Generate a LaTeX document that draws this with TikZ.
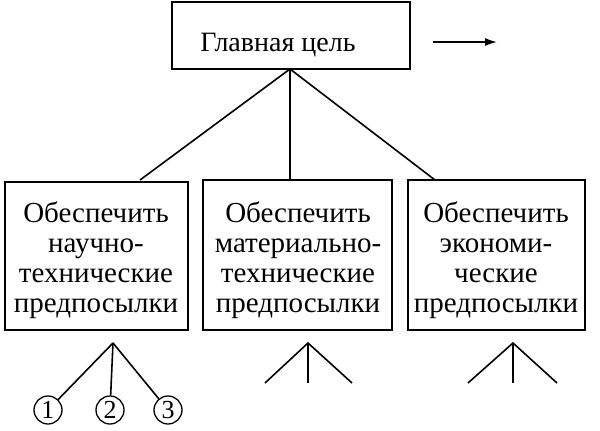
\documentclass[tikz,border=0pt]{standalone}
\usepackage{fontspec}
\setmainfont{Liberation Serif}
\usetikzlibrary{arrows.meta}
\begin{document}
\begin{tikzpicture}[x=1pt,y=-1pt,line width=1.6pt,
 t/.style={font=\fontsize{29}{30}\selectfont,align=center},
 c/.style={draw,circle,line width=1.3pt,minimum size=28pt,inner sep=0pt,font=\fontsize{26}{28}\selectfont}]
\useasboundingbox (0,0) rectangle (600,431);
\draw (172,2) rectangle (410,69);
\node[t,font=\fontsize{28}{30}\selectfont] (g) at (278,45) {Главная цель};
\coordinate (a1) at (433,42); \coordinate (a2) at (497,42);
\draw[-{Latex[length=12pt,width=8pt]}] (a1) -- (a2);
\coordinate (top) at (290,69);
\draw (5,182) rectangle (188,330);
\draw (203,180) rectangle (392,330);
\draw (408,180) rectangle (585,330);
\draw (top) -- (140,180); \draw (top) -- (290,180); \draw (top) -- (435,180);
\node[t] at (96,260) {Обеспечить\\научно-\\технические\\предпосылки};
\node[t] at (298,260) {Обеспечить\\материально-\\технические\\предпосылки};
\node[t] at (496,260) {Обеспечить\\экономи-\\ческие\\предпосылки};
\node[c] (n1) at (48,410) {1};
\node[c] (n2) at (110,410) {2};
\node[c] (n3) at (168,410) {3};
\coordinate (p1) at (113,343);
\draw (p1) -- (n1); \draw (p1) -- (n2); \draw (p1) -- (n3);
\draw (265,383) -- (308,343) -- (352,383); \draw (308,343) -- (308,383);
\draw (468,383) -- (513,343) -- (557,383); \draw (513,343) -- (513,383);
\end{tikzpicture}
\end{document}
